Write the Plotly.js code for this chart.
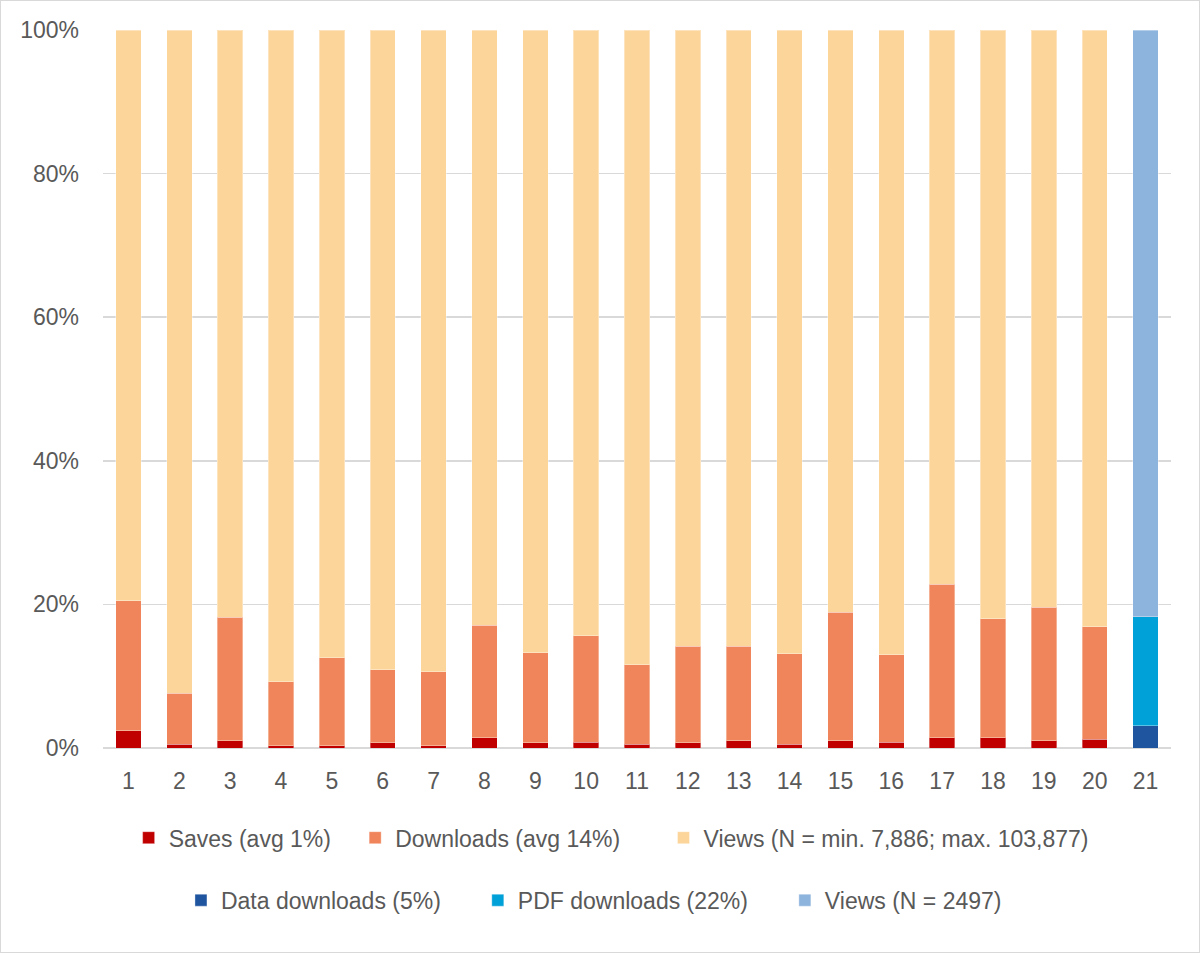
<!DOCTYPE html>
<html>
<head>
<meta charset="utf-8">
<script src="https://cdn.plot.ly/plotly-3.0.1.min.js"></script>
<style>
  html, body { margin: 0; padding: 0; background: #fff; }
  #chart { width: 1198px; height: 951px; border: 1px solid #d9d9d9; }
</style>
</head>
<body>
<div id="chart"></div>
<script>
// categories (items 1-20, plus the separate item 21)
const items = ['1','2','3','4','5','6','7','8','9','10','11','12','13','14','15','16','17','18','19','20'];
const item21 = ['21'];

// percent shares
const saves     = [2.4, 0.5, 1.0, 0.3, 0.3, 0.7, 0.3, 1.4, 0.7, 0.8, 0.5, 0.7, 1.0, 0.5, 1.0, 0.8, 1.4, 1.4, 1.0, 1.2];
const downloads = [18.1, 7.1, 17.2, 8.9, 12.3, 10.2, 10.3, 15.7, 12.6, 14.8, 11.1, 13.5, 13.2, 12.6, 17.9, 12.2, 21.4, 16.6, 18.6, 15.7];
const views     = items.map((_, i) => 100 - saves[i] - downloads[i]);

const dataDownloads = [3.1];
const pdfDownloads  = [15.2];
const views21       = [81.7];

const edge = { color: 'rgba(255,255,255,0.35)', width: 1 };
const pad = n => '\u00A0'.repeat(n);

function bar(name, x, y, color, legend) {
  return {
    type: 'bar', name: name, x: x, y: y,
    marker: { color: color, line: edge },
    legend: legend,
    hoverinfo: 'name+y'
  };
}

const traces = [
  bar('Saves (avg 1%)' + pad(3), items, saves, '#C00000', 'legend'),
  bar('Downloads (avg 14%)' + pad(6), items, downloads, '#F0845A', 'legend'),
  bar('Views (N = min. 7,886; max. 103,877)', items, views, '#FCD59B', 'legend'),
  bar('Data downloads (5%)' + pad(5), item21, dataDownloads, '#1F559F', 'legend2'),
  bar('PDF downloads (22%)' + pad(5), item21, pdfDownloads, '#00A0D8', 'legend2'),
  bar('Views (N = 2497)', item21, views21, '#8DB4DD', 'legend2')
];

const fontFam = '"Liberation Sans", Arial, sans-serif';
const txt = '#595959';

const layout = {
  width: 1198,
  height: 951,
  margin: { l: 102, r: 28, t: 29, b: 204 },
  paper_bgcolor: '#fff',
  plot_bgcolor: '#fff',
  barmode: 'stack',
  bargap: 0.5,
  font: { family: fontFam, size: 23, color: txt },
  xaxis: {
    type: 'category',
    categoryorder: 'array',
    categoryarray: items.concat(item21),
    showgrid: false,
    showline: false,
    ticks: '',
    ticklabelstandoff: 17,
    tickfont: { family: fontFam, size: 23, color: txt }
  },
  yaxis: {
    range: [0, 100],
    dtick: 20,
    ticksuffix: '%',
    showgrid: true,
    gridcolor: '#D9D9D9',
    gridwidth: 1.5,
    zeroline: true,
    zerolinecolor: '#D9D9D9',
    zerolinewidth: 1.5,
    showline: false,
    ticks: '',
    ticklabelstandoff: 23,
    tickfont: { family: fontFam, size: 23, color: txt }
  },
  legend: {
    orientation: 'h',
    x: 0.024, xanchor: 'left',
    y: -0.125, yanchor: 'middle',
    font: { family: fontFam, size: 23, color: txt },
    itemwidth: 30,
    traceorder: 'normal'
  },
  legend2: {
    orientation: 'h',
    x: 0.073, xanchor: 'left',
    y: -0.212, yanchor: 'middle',
    font: { family: fontFam, size: 23, color: txt },
    itemwidth: 30,
    traceorder: 'normal'
  },
  showlegend: true
};

Plotly.newPlot('chart', traces, layout, { displayModeBar: false, staticPlot: true });
</script>
</body>
</html>
